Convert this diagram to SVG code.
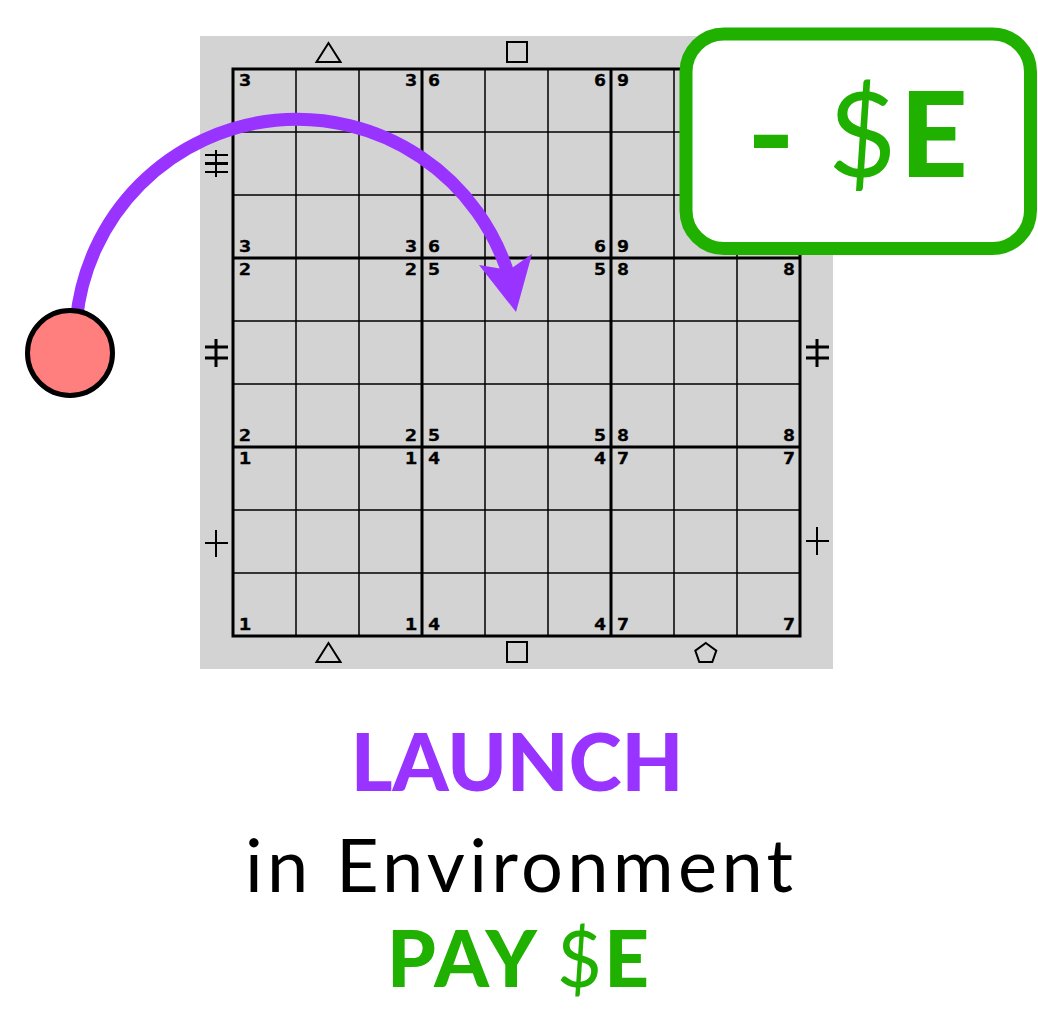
<svg xmlns="http://www.w3.org/2000/svg" width="1038" height="1009" viewBox="0 0 1038 1009">
<style>
.thin{stroke:#000;stroke-width:1.5;fill:none}
.thick{stroke:#000;stroke-width:3;fill:none}
.sym{stroke:#000;stroke-width:2;fill:none}
.bar{stroke:#000;stroke-width:3}
.d{font-family:"DejaVu Sans Mono",monospace;font-weight:bold;font-size:15px;fill:#000;stroke:#000;stroke-width:0.4}
.cap{font-family:Lato,"Liberation Sans",sans-serif}
</style>
<rect width="1038" height="1009" fill="#fff"/>
<g id="board">
<rect x="200" y="36" width="633" height="633" fill="#d3d3d3"/>
<path class="thin" d="M296 69V636M359 69V636M485 69V636M548 69V636M674 69V636M737 69V636M233 132H800M233 195H800M233 321H800M233 384H800M233 510H800M233 573H800"/>
<path class="thick" d="M422 69V636M611 69V636M233 258H800M233 447H800"/>
<rect class="thick" x="233" y="69" width="567" height="567"/>
<g id="top-symbols">
<polygon class="sym" points="328.5,43 316.5,62 340.5,62"/>
<rect class="sym" x="507" y="42" width="20" height="20"/>
</g>
<g id="bottom-symbols">
<polygon class="sym" points="328.5,643 316.5,662 340.5,662"/>
<rect class="sym" x="507" y="642" width="20" height="20"/>
<polygon class="sym" points="705.8,643 716.3,650.6 712.3,662 699.3,662 695.3,650.6"/>
</g>
<g id="side-symbols">
<path class="sym" d="M216 150V177M205 155H228M205 172H228"/>
<path class="bar" d="M205 163.5H228"/>
<path class="bar" d="M216 339V367M205 347H228M205 358H228"/>
<path class="sym" d="M216 530V557M205 543H228"/>
<path class="bar" d="M817 339V367M806 347H829M806 358H829"/>
<path class="sym" d="M817 527V555M806 541H829"/>
</g>
<g id="labels">
<text class="d" x="239" y="86" textLength="12" lengthAdjust="spacingAndGlyphs">3</text>
<text class="d" x="405" y="86" textLength="12" lengthAdjust="spacingAndGlyphs">3</text>
<text class="d" x="239" y="252" textLength="12" lengthAdjust="spacingAndGlyphs">3</text>
<text class="d" x="405" y="252" textLength="12" lengthAdjust="spacingAndGlyphs">3</text>
<text class="d" x="428" y="86" textLength="12" lengthAdjust="spacingAndGlyphs">6</text>
<text class="d" x="594" y="86" textLength="12" lengthAdjust="spacingAndGlyphs">6</text>
<text class="d" x="428" y="252" textLength="12" lengthAdjust="spacingAndGlyphs">6</text>
<text class="d" x="594" y="252" textLength="12" lengthAdjust="spacingAndGlyphs">6</text>
<text class="d" x="617" y="86" textLength="12" lengthAdjust="spacingAndGlyphs">9</text>
<text class="d" x="617" y="252" textLength="12" lengthAdjust="spacingAndGlyphs">9</text>
<text class="d" x="239" y="275" textLength="12" lengthAdjust="spacingAndGlyphs">2</text>
<text class="d" x="405" y="275" textLength="12" lengthAdjust="spacingAndGlyphs">2</text>
<text class="d" x="239" y="441" textLength="12" lengthAdjust="spacingAndGlyphs">2</text>
<text class="d" x="405" y="441" textLength="12" lengthAdjust="spacingAndGlyphs">2</text>
<text class="d" x="428" y="275" textLength="12" lengthAdjust="spacingAndGlyphs">5</text>
<text class="d" x="594" y="275" textLength="12" lengthAdjust="spacingAndGlyphs">5</text>
<text class="d" x="428" y="441" textLength="12" lengthAdjust="spacingAndGlyphs">5</text>
<text class="d" x="594" y="441" textLength="12" lengthAdjust="spacingAndGlyphs">5</text>
<text class="d" x="617" y="275" textLength="12" lengthAdjust="spacingAndGlyphs">8</text>
<text class="d" x="783" y="275" textLength="12" lengthAdjust="spacingAndGlyphs">8</text>
<text class="d" x="617" y="441" textLength="12" lengthAdjust="spacingAndGlyphs">8</text>
<text class="d" x="783" y="441" textLength="12" lengthAdjust="spacingAndGlyphs">8</text>
<text class="d" x="239" y="464" textLength="12" lengthAdjust="spacingAndGlyphs">1</text>
<text class="d" x="405" y="464" textLength="12" lengthAdjust="spacingAndGlyphs">1</text>
<text class="d" x="239" y="630" textLength="12" lengthAdjust="spacingAndGlyphs">1</text>
<text class="d" x="405" y="630" textLength="12" lengthAdjust="spacingAndGlyphs">1</text>
<text class="d" x="428" y="464" textLength="12" lengthAdjust="spacingAndGlyphs">4</text>
<text class="d" x="594" y="464" textLength="12" lengthAdjust="spacingAndGlyphs">4</text>
<text class="d" x="428" y="630" textLength="12" lengthAdjust="spacingAndGlyphs">4</text>
<text class="d" x="594" y="630" textLength="12" lengthAdjust="spacingAndGlyphs">4</text>
<text class="d" x="617" y="464" textLength="12" lengthAdjust="spacingAndGlyphs">7</text>
<text class="d" x="783" y="464" textLength="12" lengthAdjust="spacingAndGlyphs">7</text>
<text class="d" x="617" y="630" textLength="12" lengthAdjust="spacingAndGlyphs">7</text>
<text class="d" x="783" y="630" textLength="12" lengthAdjust="spacingAndGlyphs">7</text>
</g>
</g>
<g id="connectors">
<path d="M76.4 320 A221.6 221.6 0 0 1 509.5 278" fill="none" stroke="#9933ff" stroke-width="13"/>
<polygon points="516,312 532,254 509,270 479,265" fill="#9933ff"/>
</g>
<g id="start-node">
<circle cx="70" cy="353" r="42.5" fill="#ff7f7f" stroke="#000" stroke-width="5"/>
</g>
<g id="cost-box">
<rect x="686" y="34" width="344.5" height="214.5" rx="38" fill="#fff" stroke="#20b000" stroke-width="13"/>
<text class="cap" y="177" font-size="118" fill="#20b000"><tspan x="747" font-weight="900" textLength="48" lengthAdjust="spacingAndGlyphs">-</tspan><tspan x="828" font-weight="400">$</tspan><tspan x="900" font-weight="900">E</tspan></text>
</g>
<g id="caption">
<text class="cap" x="517" y="791" text-anchor="middle" font-size="80" font-weight="900" fill="#9933ff">LAUNCH</text>
<text class="cap" x="519" y="892" text-anchor="middle" font-size="74" textLength="548" fill="#000">in Environment</text>
<text class="cap" x="518" y="987" text-anchor="middle" font-size="78" textLength="262" fill="#20b000"><tspan font-weight="900">PAY </tspan><tspan font-weight="400">$</tspan><tspan font-weight="900">E</tspan></text>
</g>
</svg>
